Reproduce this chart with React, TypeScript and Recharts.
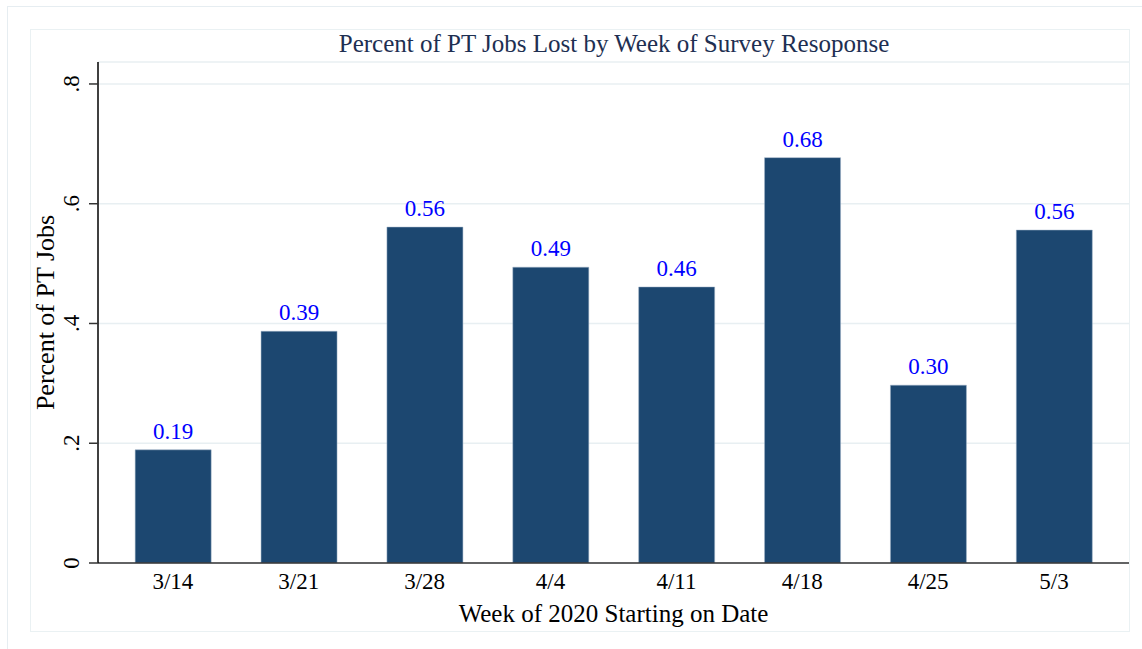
import React from 'react';
import { BarChart, Bar, XAxis, YAxis, CartesianGrid, LabelList } from 'recharts';

const weeks = ['3/14', '3/21', '3/28', '4/4', '4/11', '4/18', '4/25', '5/3'];
const pctLost = [0.189, 0.387, 0.561, 0.494, 0.461, 0.677, 0.297, 0.556];
const yTicks = [0, 0.2, 0.4, 0.6, 0.8];

const serif = '"Liberation Serif", "Times New Roman", serif';

const data = weeks.map((w, i) => ({ week: w, value: pctLost[i] }));

const fmtY = (v: number) => (v === 0 ? '0' : v.toFixed(1).replace(/^0/, ''));

const YTick = (props: any) => {
  const { x, y, payload } = props;
  const tx = x - 8;
  return (
    <text
      x={tx}
      y={y}
      transform={`rotate(-90, ${tx}, ${y})`}
      textAnchor="middle"
      fontFamily={serif}
      fontSize={23}
      fill="#000"
    >
      {fmtY(payload.value)}
    </text>
  );
};

const App: React.FC = () => {
  return (
    <div style={{ position: 'absolute', left: 0, top: 0, width: 1142, height: 649, overflow: 'hidden', background: '#fff' }}>
      <div style={{ position: 'absolute', left: 7, top: 6, width: 1200, height: 700, border: '1.5px solid #e6edf1' }} />
      <div style={{ position: 'absolute', left: 30, top: 29, width: 1098, height: 601, border: '1px solid #eaf1f3' }} />
      <div
        style={{
          position: 'absolute', left: 0, top: 30, width: 1228, textAlign: 'center', lineHeight: '28px',
          fontFamily: serif, fontSize: 25, color: '#1e2f52',
        }}
      >
        Percent of PT Jobs Lost by Week of Survey Resoponse
      </div>
      <BarChart
        width={1142}
        height={649}
        data={data}
        margin={{ top: 62, right: 13, left: 38, bottom: 56 }}
        barCategoryGap="20%"
        style={{ position: 'absolute', left: 0, top: 0 }}
      >
        <CartesianGrid vertical={false} stroke="#e8eff2" strokeWidth={1.5} />
        <XAxis
          dataKey="week"
          padding={{ left: 12, right: 12 }}
          tickLine={false}
          axisLine={{ stroke: '#333', strokeWidth: 1.5 }}
          tick={{ fontFamily: serif, fontSize: 23, fill: '#000' }}
          tickMargin={4}
          height={30}
          label={{ value: 'Week of 2020 Starting on Date', position: 'insideBottom', offset: -29, fontFamily: serif, fontSize: 25, fill: '#000' }}
        />
        <YAxis
          width={60}
          domain={[0, 0.8367]}
          ticks={yTicks}
          tick={<YTick />}
          tickLine={{ stroke: '#333', strokeWidth: 1.5 }}
          tickSize={9}
          axisLine={{ stroke: '#000', strokeWidth: 1.5 }}
          allowDataOverflow
          label={{ value: 'Percent of PT Jobs', angle: -90, position: 'insideLeft', offset: 7, fontFamily: serif, fontSize: 26, fill: '#000', style: { textAnchor: 'middle' } }}
        />
        <Bar dataKey="value" fill="#1c4770" stroke="#9fb3c6" strokeWidth={0.5} isAnimationActive={false}>
          <LabelList
            dataKey="value"
            position="top"
            offset={11}
            formatter={(v: any) => Number(v).toFixed(2)}
            style={{ fontFamily: serif, fontSize: 23, fill: '#0000ff' }}
          />
        </Bar>
      </BarChart>
    </div>
  );
};

export default App;
